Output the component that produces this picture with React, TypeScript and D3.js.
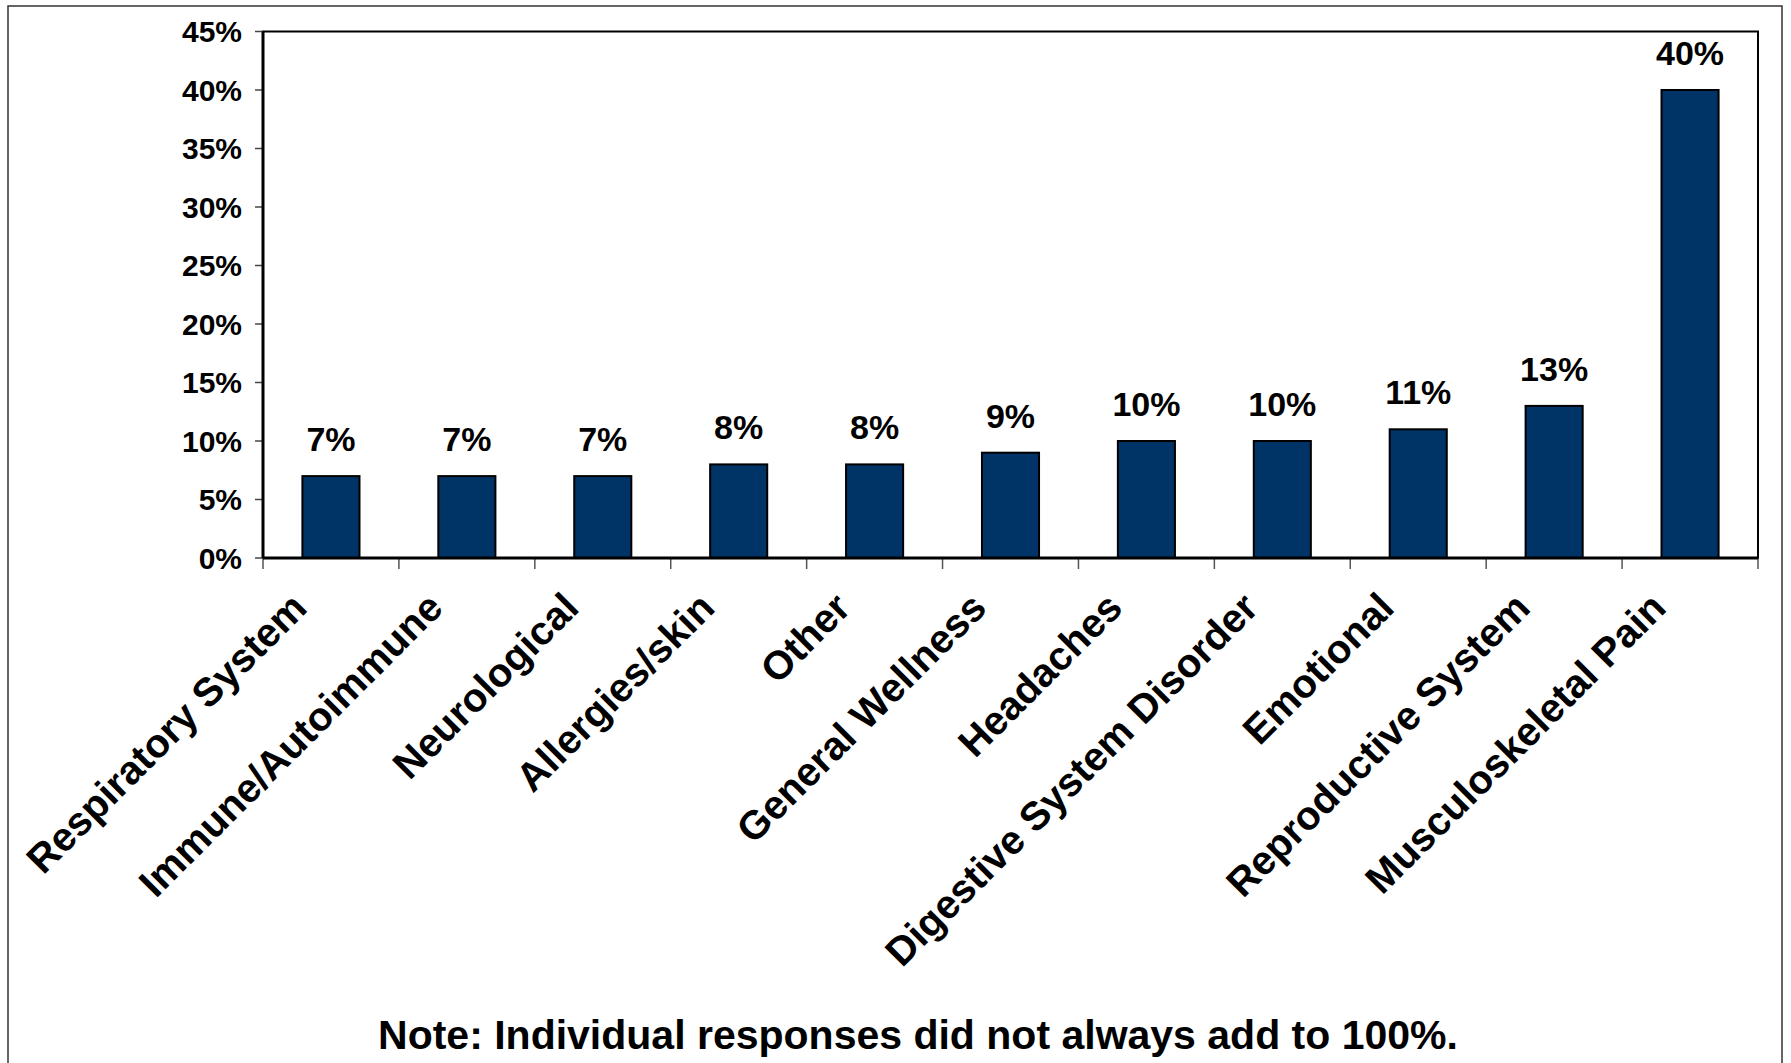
import React, { useRef, useEffect } from "react";
import * as d3 from "d3";

const categories = [
    "Respiratory System",
    "Immune/Autoimmune",
    "Neurological",
    "Allergies/skin",
    "Other",
    "General Wellness",
    "Headaches",
    "Digestive System Disorder",
    "Emotional",
    "Reproductive System",
    "Musculoskeletal Pain",
];
const values = [0.07, 0.07, 0.07, 0.08, 0.08, 0.09, 0.1, 0.1, 0.11, 0.13, 0.4];
const yTicks = [0, 0.05, 0.1, 0.15, 0.2, 0.25, 0.3, 0.35, 0.4, 0.45];
const note = "Note: Individual responses did not always add to 100%.";

const W = 1791;
const H = 1063;

const App: React.FC = () => {
    const svgRef = useRef<SVGSVGElement | null>(null);

    useEffect(() => {
        if (!svgRef.current) return;
        const svg = d3.select(svgRef.current);
        svg.selectAll("*").remove(); // Clear previous contents

        const left = 263;
        const right = 1758;
        const top = 31.5;
        const bottom = 558;
        const font = "Arial, 'Liberation Sans', sans-serif";

        // outer frame (runs off the bottom of the picture)
        svg.append("rect")
            .attr("x", 8)
            .attr("y", 6)
            .attr("width", 1774)
            .attr("height", 1080)
            .attr("fill", "white")
            .attr("stroke", "#333")
            .attr("stroke-width", 1.5);

        const x = d3
            .scaleBand<string>()
            .domain(categories)
            .range([left, right])
            .paddingInner(0.58)
            .paddingOuter(0.29);

        const y = d3.scaleLinear().domain([0, 0.45]).range([bottom, top]);

        // plot frame
        svg.append("rect")
            .attr("x", left)
            .attr("y", top)
            .attr("width", right - left)
            .attr("height", bottom - top)
            .attr("fill", "none")
            .attr("stroke", "#000")
            .attr("stroke-width", 2);

        // y ticks + labels
        const yAxis = svg.append("g");
        yAxis.selectAll("line")
            .data(yTicks)
            .enter()
            .append("line")
            .attr("x1", left - 8)
            .attr("x2", left)
            .attr("y1", (d) => y(d))
            .attr("y2", (d) => y(d))
            .attr("stroke", "#444")
            .attr("stroke-width", 1.5);
        yAxis.selectAll("text")
            .data(yTicks)
            .enter()
            .append("text")
            .attr("x", 242)
            .attr("y", (d) => y(d))
            .attr("dy", "0.36em")
            .attr("text-anchor", "end")
            .style("font-family", font)
            .style("font-weight", "bold")
            .style("font-size", "30px")
            .text((d) => d3.format(".0%")(d));

        // x ticks on category boundaries
        const bounds = d3.range(categories.length + 1).map((i) => left + i * x.step());
        svg.append("g")
            .selectAll("line")
            .data(bounds)
            .enter()
            .append("line")
            .attr("x1", (d) => d)
            .attr("x2", (d) => d)
            .attr("y1", bottom)
            .attr("y2", bottom + 11)
            .attr("stroke", "#555")
            .attr("stroke-width", 1.5);

        // bars
        svg.append("g")
            .selectAll("rect")
            .data(values)
            .enter()
            .append("rect")
            .attr("x", (d, i) => x(categories[i]) as number)
            .attr("y", (d) => y(d))
            .attr("width", x.bandwidth())
            .attr("height", (d) => bottom - y(d))
            .attr("fill", "#003366")
            .attr("stroke", "#000")
            .attr("stroke-width", 2);

        // axis lines on top of bars
        svg.append("line")
            .attr("x1", left)
            .attr("x2", right)
            .attr("y1", bottom)
            .attr("y2", bottom)
            .attr("stroke", "#000")
            .attr("stroke-width", 3);
        svg.append("line")
            .attr("x1", left)
            .attr("x2", left)
            .attr("y1", top)
            .attr("y2", bottom)
            .attr("stroke", "#000")
            .attr("stroke-width", 3);

        // data labels
        svg.append("g")
            .selectAll("text")
            .data(values)
            .enter()
            .append("text")
            .attr("x", (d, i) => (x(categories[i]) as number) + x.bandwidth() / 2)
            .attr("y", (d) => y(d) - 25)
            .attr("text-anchor", "middle")
            .style("font-family", font)
            .style("font-weight", "bold")
            .style("font-size", "34px")
            .text((d) => d3.format(".0%")(d));

        // rotated category labels
        svg.append("g")
            .selectAll("text")
            .data(categories)
            .enter()
            .append("text")
            .attr(
                "transform",
                (d) =>
                    `translate(${(x(d) as number) + x.bandwidth() / 2 - 22},${bottom + 52}) rotate(-45)`
            )
            .attr("text-anchor", "end")
            .style("font-family", font)
            .style("font-weight", "bold")
            .style("font-size", "40px")
            .text((d) => d);

        // footnote
        svg.append("text")
            .attr("x", 918)
            .attr("y", 1049)
            .attr("text-anchor", "middle")
            .style("font-family", font)
            .style("font-weight", "bold")
            .style("font-size", "41px")
            .text(note);
    }, []);

    return (
        <div>
            <style>{`body { margin: 0; }`}</style>
            <svg ref={svgRef} width={W} height={H} style={{ display: "block" }} />
        </div>
    );
};

export default App;
